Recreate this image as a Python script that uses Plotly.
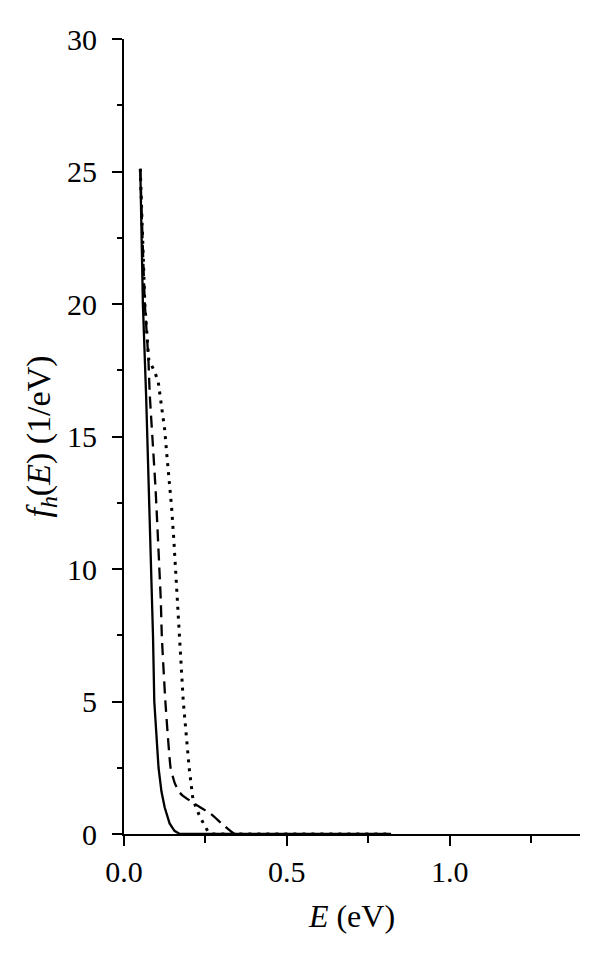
import plotly.graph_objects as go

# Solid curve
solid_E = [0.050, 0.058, 0.068, 0.078, 0.086, 0.089, 0.093, 0.100, 0.106, 0.115, 0.125, 0.140, 0.155, 0.171, 0.820]
solid_f = [25.1, 20.0, 16.5, 12.5, 9.0, 7.5, 5.0, 3.5, 2.5, 1.6, 1.0, 0.4, 0.12, 0.0, 0.0]

# Dashed curve
dash_E = [0.050, 0.064, 0.075, 0.079, 0.087, 0.097, 0.113, 0.116, 0.127, 0.143, 0.155, 0.168, 0.180, 0.207, 0.235, 0.264, 0.300, 0.341, 0.820]
dash_f = [25.1, 20.0, 17.9, 16.6, 15.0, 13.0, 8.8, 7.5, 5.0, 2.5, 1.95, 1.6, 1.45, 1.22, 1.0, 0.78, 0.4, 0.0, 0.0]

# Dotted curve
dot_E = [0.050, 0.064, 0.076, 0.094, 0.105, 0.110, 0.117, 0.125, 0.132, 0.139, 0.146, 0.153, 0.159, 0.166, 0.169, 0.182, 0.200, 0.212, 0.233, 0.258, 0.270, 0.820]
dot_f = [25.1, 20.0, 17.9, 17.45, 17.07, 16.6, 16.0, 15.25, 14.24, 13.36, 12.35, 11.1, 9.84, 8.2, 7.5, 5.0, 2.5, 1.28, 0.65, 0.09, 0.0, 0.0]

x_ticks = [0.0, 0.5, 1.0]
x_labels = ["0.0", "0.5", "1.0"]
y_ticks = [0, 5, 10, 15, 20, 25, 30]

FONT = "Liberation Serif"
FS = 30

fig = go.Figure()
fig.add_trace(go.Scatter(x=solid_E, y=solid_f, mode="lines",
                         line=dict(color="black", width=2.3), showlegend=False))
fig.add_trace(go.Scatter(x=dash_E, y=dash_f, mode="lines", line_shape="spline",
                         line=dict(color="black", width=2.3, dash="12px,7px", smoothing=0.4), showlegend=False))
fig.add_trace(go.Scatter(x=dot_E, y=dot_f, mode="lines",
                         line=dict(color="black", width=3, dash="3px,6px"), showlegend=False))

# page body has an 8px margin: figure is 584x945 so plot area lands at
# screen x 124..580, y 39..834
fig.update_layout(
    width=584, height=945,
    margin=dict(l=116, r=12, t=31, b=119),
    paper_bgcolor="white", plot_bgcolor="white",
    font=dict(family=FONT, size=FS, color="black"),
    xaxis=dict(
        range=[0, 1.4], tickvals=x_ticks, ticktext=x_labels,
        showgrid=False, zeroline=False, showline=True, linecolor="black", linewidth=2,
        ticks="outside", ticklen=10, tickwidth=2, tickcolor="black",
        minor=dict(dtick=0.25, tick0=0, ticks="outside", ticklen=7, tickwidth=2, tickcolor="black"),
        tickfont=dict(family=FONT, size=FS),
        ticklabelstandoff=0,
        title=dict(text="<i>E</i> (eV)", font=dict(family=FONT, size=32), standoff=18),
        layer="below traces",
    ),
    yaxis=dict(
        range=[0, 30], tickvals=y_ticks,
        showgrid=False, zeroline=False, showline=True, linecolor="black", linewidth=2,
        ticks="outside", ticklen=10, tickwidth=2, tickcolor="black",
        minor=dict(dtick=2.5, tick0=0, ticks="outside", ticklen=5, tickwidth=2, tickcolor="black"),
        tickfont=dict(family=FONT, size=FS),
        ticklabelstandoff=9,
        title=dict(text="<i>f</i><sub><i>h</i></sub>(<i>E</i>) (1/eV)", font=dict(family=FONT, size=34), standoff=6),
        layer="below traces",
    ),
)

fig.write_html("out.html")
